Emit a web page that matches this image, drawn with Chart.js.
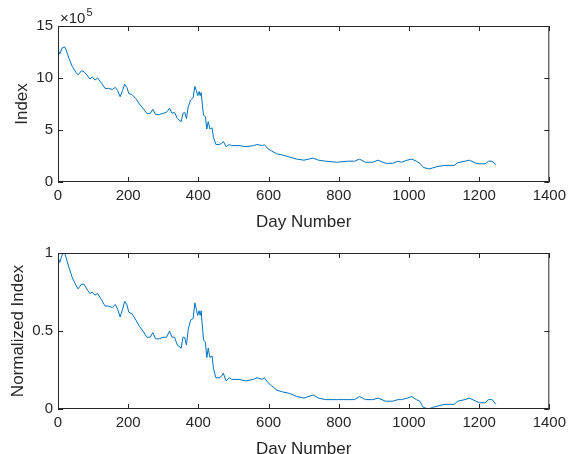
<!DOCTYPE html>
<html>
<head>
<title>Index</title>
<script src="https://cdn.jsdelivr.net/npm/chart.js"></script>
<style>
body { margin: 0; background: #fff; overflow: hidden; }
.box { position: absolute; left: 0; width: 571px; height: 240px; }
</style>
</head>
<body>
<div class="box" style="top:0"><canvas id="topChart"></canvas></div>
<div class="box" style="top:227px"><canvas id="bottomChart"></canvas></div>
<script>
// day numbers
const days = [0,5,12,19,23,31,41,52,57,67,74,82,91,98,105,113,124,134,144,155,163,170,177,184,190,196,202,211,222,232,242,253,263,270,278,289,299,309,318,325,332,340,351,356,361,366,371,378,385,390,394,398,402,405,408,412,415,420,424,428,433,439,443,450,459,466,471,479,488,495,516,536,557,567,583,588,598,608,624,639,660,680,701,727,742,763,794,825,845,859,876,897,912,933,954,969,979,995,1008,1021,1031,1041,1057,1067,1083,1103,1129,1139,1160,1172,1191,1201,1217,1227,1237,1248];
// index, in units of 10^5
const indexVals = [12.7,12.3,12.9,13.0,12.7,11.9,11.1,10.5,10.3,10.7,10.6,10.3,9.9,10.1,9.8,10.0,9.5,9.0,9.0,8.9,9.1,8.8,8.2,8.8,9.4,9.1,8.5,8.4,8.0,7.5,7.1,6.6,6.6,7.0,6.5,6.5,6.6,6.7,7.1,6.6,6.7,6.1,5.8,6.6,6.7,6.1,7.2,7.9,8.1,9.2,8.8,8.3,8.7,8.3,8.6,7.2,6.4,6.3,5.1,5.8,5.1,5.2,4.3,3.6,3.6,3.7,3.9,3.4,3.6,3.5,3.5,3.4,3.5,3.6,3.5,3.6,3.2,3.0,2.7,2.6,2.4,2.2,2.1,2.3,2.1,2.0,1.9,2.0,2.0,2.2,1.9,1.9,2.1,1.8,1.8,2.0,1.9,2.1,2.2,2.0,1.8,1.4,1.25,1.35,1.5,1.6,1.6,1.85,2.0,2.1,1.8,1.75,1.75,2.0,2.0,1.65];
// normalized index
const normVals = [0.97,0.94,0.99,1.00,0.97,0.91,0.84,0.79,0.77,0.80,0.80,0.77,0.74,0.75,0.73,0.74,0.70,0.66,0.66,0.65,0.67,0.64,0.59,0.64,0.69,0.67,0.62,0.61,0.57,0.53,0.50,0.46,0.46,0.49,0.45,0.45,0.46,0.46,0.50,0.46,0.46,0.41,0.39,0.46,0.46,0.41,0.51,0.57,0.58,0.68,0.64,0.60,0.63,0.60,0.63,0.51,0.44,0.43,0.33,0.39,0.33,0.34,0.26,0.20,0.20,0.21,0.23,0.18,0.20,0.19,0.19,0.18,0.19,0.20,0.19,0.20,0.17,0.15,0.12,0.11,0.10,0.08,0.07,0.09,0.07,0.06,0.06,0.06,0.06,0.08,0.06,0.06,0.07,0.05,0.05,0.06,0.06,0.07,0.08,0.06,0.05,0.01,0.00,0.01,0.02,0.03,0.03,0.05,0.06,0.07,0.05,0.04,0.04,0.06,0.06,0.03];

const xTicks = [0,200,400,600,800,1000,1200,1400];
const indexTicks = [0,5,10,15];
const normTicks = [0,0.5,1];

const ink = '#262626';
const lineBlue = '#0072BD';
const fontFamily = '"Liberation Sans", Arial, sans-serif';

// MATLAB style box with inward ticks on all four sides
const boxTicks = {
  id: 'boxTicks',
  afterDraw(chart, args, opts) {
    const ctx = chart.ctx;
    const a = chart.chartArea;
    const xs = chart.scales.x, ys = chart.scales.y;
    const len = 5;
    ctx.save();
    ctx.strokeStyle = ink;
    ctx.lineWidth = 1;
    ctx.beginPath();
    ctx.rect(a.left + 0.5, a.top + 0.5, a.right - a.left - 1, a.bottom - a.top - 1);
    xs.ticks.forEach(t => {
      const px = Math.round(xs.getPixelForValue(t.value)) + 0.5;
      ctx.moveTo(px, a.bottom); ctx.lineTo(px, a.bottom - len);
      ctx.moveTo(px, a.top); ctx.lineTo(px, a.top + len);
    });
    ys.ticks.forEach(t => {
      const py = Math.round(ys.getPixelForValue(t.value)) + 0.5;
      ctx.moveTo(a.left, py); ctx.lineTo(a.left + len, py);
      ctx.moveTo(a.right, py); ctx.lineTo(a.right - len, py);
    });
    ctx.stroke();
    if (opts.exponent) {
      ctx.fillStyle = ink;
      ctx.textBaseline = 'alphabetic';
      ctx.font = '15px ' + fontFamily;
      ctx.fillText('\u00d710', a.left + 2, a.top - 3);
      const w = ctx.measureText('\u00d710').width;
      ctx.font = '11px ' + fontFamily;
      ctx.fillText(opts.exponent, a.left + 3 + w, a.top - 10);
    }
    ctx.restore();
  }
};

function makeChart(id, values, yTicks, yMax, yLabel, titlePad, exponent) {
  const tickFont = { family: fontFamily, size: 15 };
  const labelFont = { family: fontFamily, size: 17 };
  return new Chart(document.getElementById(id), {
    type: 'line',
    data: {
      datasets: [{
        data: days.map((d, i) => ({ x: d, y: values[i] })),
        borderColor: lineBlue,
        borderWidth: 1,
        pointRadius: 0,
        tension: 0,
        fill: false
      }]
    },
    options: {
      responsive: true,
      maintainAspectRatio: false,
      animation: false,
      layout: { padding: { left: 0, right: 19, top: 26, bottom: 0 } },
      plugins: {
        legend: { display: false },
        tooltip: { enabled: false },
        boxTicks: { exponent: exponent }
      },
      scales: {
        x: {
          type: 'linear',
          min: 0, max: 1400,
          afterBuildTicks: s => { s.ticks = xTicks.map(v => ({ value: v })); },
          afterFit: s => { s.height = 58; },
          grid: { display: false, drawTicks: false },
          border: { display: false },
          ticks: { color: ink, font: tickFont, padding: 5, maxRotation: 0, callback: v => String(v) },
          title: { display: true, text: 'Day Number', color: ink, font: labelFont, padding: { top: 0, bottom: 7 } }
        },
        y: {
          type: 'linear',
          min: 0, max: yMax,
          afterBuildTicks: s => { s.ticks = yTicks.map(v => ({ value: v })); },
          afterFit: s => { s.width = 58; },
          grid: { display: false, drawTicks: false },
          border: { display: false },
          ticks: { color: ink, font: tickFont, padding: 5, callback: v => String(v) },
          title: { display: true, text: yLabel, color: ink, font: labelFont, padding: { top: titlePad, bottom: 0 } }
        }
      }
    },
    plugins: [boxTicks]
  });
}

makeChart('topChart', indexVals, indexTicks, 15, 'Index', 12, '5');
makeChart('bottomChart', normVals, normTicks, 1, 'Normalized Index', 8, null);
</script>
</body>
</html>
